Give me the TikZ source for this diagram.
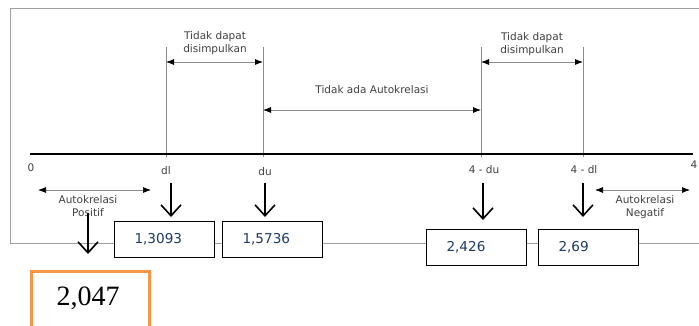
\documentclass[tikz,border=0pt]{standalone}
\usepackage{fontspec}
\setmainfont{DejaVu Sans}
\newfontfamily\resfont{Liberation Serif}
\usetikzlibrary{arrows.meta}
\definecolor{lbl}{HTML}{404040}
\definecolor{grid}{HTML}{8C8C8C}
\definecolor{frm}{HTML}{A0A0A0}
\definecolor{num}{HTML}{1F3A64}
\definecolor{orng}{HTML}{F79646}
\begin{document}
\begin{tikzpicture}[x=1pt,y=-1pt,
  lbl/.style={font=\fontsize{10.5}{12.5}\selectfont, text=lbl, inner sep=0pt, align=center},
  dbl/.style={draw=grid, line width=0.8pt, {Latex[length=8pt,width=6pt,black]}-{Latex[length=8pt,width=6pt,black]}},
  downarr/.style={draw=black, line width=1.6pt, -{Straight Barb[length=11pt,width=20pt,line width=1.6pt]}},
  vline/.style={draw=grid, line width=0.9pt},
  valbox/.style={draw=black, fill=white, line width=1pt, minimum height=36pt, text width=60pt, inner xsep=20pt, inner ysep=0pt, align=left, font=\fontsize{13.6}{15}\selectfont, text=num, anchor=north west}
]
\useasboundingbox (0,0) rectangle (699,325);
% frame
\draw[frm, line width=0.8pt] (10,243) -- (10,8) -- (699,8);
\draw[frm, line width=0.8pt] (10,243) -- (699,243);
% vertical lines
\coordinate (dlT) at (166,47); \coordinate (dlB) at (166,157);
\coordinate (duT) at (263,47); \coordinate (duB) at (263,157);
\coordinate (mduT) at (481,47); \coordinate (mduB) at (481,157);
\coordinate (mdlT) at (583,47); \coordinate (mdlB) at (583,157);
\draw[vline] (dlT) -- (dlB);
\draw[vline] (duT) -- (duB);
\draw[vline] (mduT) -- (mduB);
\draw[vline] (mdlT) -- (mdlB);
% axis
\coordinate (ax0) at (30,154); \coordinate (ax4) at (693,154);
\draw[black, line width=2.2pt] (ax0) -- (ax4);
% top double arrows
\coordinate (a1l) at (166,62); \coordinate (a1r) at (263,62);
\coordinate (a2l) at (263,110); \coordinate (a2r) at (481,110);
\coordinate (a3l) at (481,62); \coordinate (a3r) at (583,62);
\draw[dbl] (a1l) -- (a1r);
\draw[dbl] (a2l) -- (a2r);
\draw[dbl] (a3l) -- (a3r);
\node[lbl] (t1) at (215,43) {Tidak dapat\\disimpulkan};
\node[lbl] (t2) at (372,90) {Tidak ada Autokrelasi};
\node[lbl] (t3) at (532,44) {Tidak dapat\\disimpulkan};
% axis labels
\node[lbl] (l0) at (31,168) {0};
\node[lbl] (ldl) at (166,171) {dl};
\node[lbl] (ldu) at (265,172) {du};
\node[lbl] (lmdu) at (484,170) {4 - du};
\node[lbl] (lmdl) at (584,170) {4 - dl};
\node[lbl] (l4) at (694,165) {4};
% side regions
\coordinate (p1) at (38,190); \coordinate (p2) at (151,190);
\draw[dbl, line width=0.7pt] (p1) -- (p2);
\node[lbl] (pos) at (88,206) {Autokrelasi\\Positif};
\coordinate (n1) at (595,190); \coordinate (n2) at (690,190);
\draw[dbl, line width=0.7pt] (n1) -- (n2);
\node[lbl] (neg) at (645,207) {Autokrelasi\\Negatif};
% boxes
\node[valbox] (b1) at (114,221) {1,3093};
\node[valbox] (b2) at (222,221) {1,5736};
\node[valbox] (b3) at (426,229) {2,426};
\node[valbox] (b4) at (538,229) {2,69};
% down arrows
\coordinate (d1s) at (171,183); \coordinate (d1e) at (171,217);
\coordinate (d2s) at (265,183); \coordinate (d2e) at (265,217);
\coordinate (d3s) at (483,183); \coordinate (d3e) at (483,220);
\coordinate (d4s) at (583,183); \coordinate (d4e) at (583,217);
\coordinate (d5s) at (88,213); \coordinate (d5e) at (88,254);
\draw[downarr] (d1s) -- (d1e);
\draw[downarr] (d2s) -- (d2e);
\draw[downarr] (d3s) -- (d3e);
\draw[downarr] (d4s) -- (d4e);
\draw[downarr] (d5s) -- (d5e);
% result box
\node[draw=orng, line width=3pt, fill=white, minimum width=118pt, minimum height=60pt, inner sep=0pt, anchor=north west] (res) at (30,270) {};
\node[font=\resfont\fontsize{28}{30}\selectfont, inner sep=0pt] (restxt) at (88,298) {2,047};
\end{tikzpicture}
\end{document}
